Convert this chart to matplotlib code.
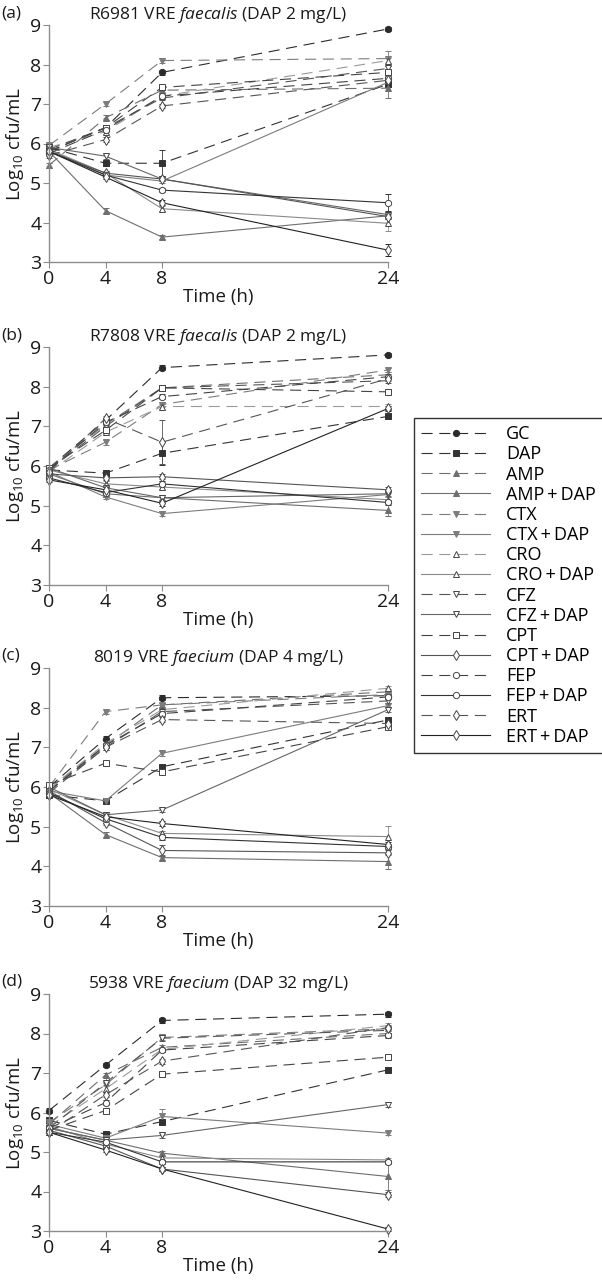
import numpy as np
import matplotlib.pyplot as plt
from matplotlib.lines import Line2D

plt.rcParams['font.family'] = ['Open Sans', 'DejaVu Sans']
plt.rcParams['mathtext.fontset'] = 'custom'
plt.rcParams['mathtext.rm'] = 'Open Sans'
plt.rcParams['mathtext.it'] = 'Open Sans:italic'

times = [0, 4, 8, 24]
names = ["GC", "DAP", "AMP", "AMP + DAP", "CTX", "CTX + DAP", "CRO", "CRO + DAP",
         "CFZ", "CFZ + DAP", "CPT", "CPT + DAP", "FEP", "FEP + DAP", "ERT", "ERT + DAP"]

# log10 cfu/mL, one list per regimen: t = 0, 4, 8, 24 h
panel_a = {
    "GC": [5.8, 6.4, 7.8, 8.9],
    "DAP": [5.9, 5.5, 5.5, 7.5],
    "AMP": [5.45, 6.65, 7.35, 7.4],
    "AMP + DAP": [5.8, 4.3, 3.63, 4.17],
    "CTX": [5.95, 7.0, 8.1, 8.15],
    "CTX + DAP": [5.85, 5.2, 5.05, 7.55],
    "CRO": [5.9, 6.3, 7.2, 8.1],
    "CRO + DAP": [5.85, 5.25, 4.35, 3.98],
    "CFZ": [5.85, 6.4, 7.15, 7.9],
    "CFZ + DAP": [5.9, 5.68, 5.1, 4.2],
    "CPT": [5.8, 6.4, 7.42, 7.8],
    "CPT + DAP": [5.8, 5.25, 5.1, 4.15],
    "FEP": [5.75, 6.35, 7.2, 7.65],
    "FEP + DAP": [5.8, 5.2, 4.82, 4.5],
    "ERT": [5.7, 6.1, 6.95, 7.6],
    "ERT + DAP": [5.8, 5.15, 4.5, 3.3],
}
panel_b = {
    "GC": [5.95, 7.15, 8.48, 8.8],
    "DAP": [5.9, 5.82, 6.32, 7.25],
    "AMP": [5.95, 7.05, 7.97, 8.3],
    "AMP + DAP": [5.8, 5.3, 5.2, 4.88],
    "CTX": [5.9, 6.6, 7.55, 8.42],
    "CTX + DAP": [5.85, 5.22, 4.8, 5.28],
    "CRO": [5.85, 6.85, 7.5, 7.5],
    "CRO + DAP": [5.9, 5.55, 5.47, 5.15],
    "CFZ": [5.9, 7.0, 7.97, 8.15],
    "CFZ + DAP": [5.95, 5.45, 5.2, 5.3],
    "CPT": [5.95, 6.9, 7.97, 7.87],
    "CPT + DAP": [5.8, 5.7, 5.73, 5.4],
    "FEP": [5.9, 7.1, 7.75, 8.25],
    "FEP + DAP": [5.7, 5.33, 5.55, 5.08],
    "ERT": [5.85, 7.2, 6.6, 8.2],
    "ERT + DAP": [5.65, 5.4, 5.06, 7.45],
}
panel_c = {
    "GC": [6.0, 7.22, 8.25, 8.3],
    "DAP": [5.8, 5.65, 6.51, 7.69],
    "AMP": [5.95, 7.05, 8.07, 8.4],
    "AMP + DAP": [5.85, 4.8, 4.22, 4.12],
    "CTX": [6.0, 7.9, 8.07, 8.33],
    "CTX + DAP": [5.9, 5.65, 6.85, 8.05],
    "CRO": [5.95, 7.1, 7.95, 8.49],
    "CRO + DAP": [5.95, 5.3, 4.83, 4.75],
    "CFZ": [5.9, 7.0, 7.9, 8.17],
    "CFZ + DAP": [6.0, 5.3, 5.42, 7.95],
    "CPT": [6.05, 6.6, 6.38, 7.52],
    "CPT + DAP": [5.9, 5.1, 4.4, 4.34],
    "FEP": [5.9, 7.05, 7.85, 8.27],
    "FEP + DAP": [5.85, 5.2, 4.73, 4.5],
    "ERT": [5.85, 7.0, 7.7, 7.6],
    "ERT + DAP": [5.8, 5.25, 5.08, 4.55],
}
panel_d = {
    "GC": [6.05, 7.2, 8.33, 8.49],
    "DAP": [5.8, 5.45, 5.77, 7.08],
    "AMP": [5.7, 6.95, 7.65, 8.0],
    "AMP + DAP": [5.6, 5.3, 4.97, 4.38],
    "CTX": [5.75, 6.7, 7.9, 8.12],
    "CTX + DAP": [5.7, 5.35, 5.9, 5.48],
    "CRO": [5.65, 6.6, 7.6, 8.2],
    "CRO + DAP": [5.65, 5.2, 4.85, 4.8],
    "CFZ": [5.6, 6.75, 7.88, 8.08],
    "CFZ + DAP": [5.6, 5.3, 5.42, 6.2],
    "CPT": [5.55, 6.05, 6.97, 7.4],
    "CPT + DAP": [5.55, 5.15, 4.57, 3.92],
    "FEP": [5.6, 6.25, 7.58, 7.95],
    "FEP + DAP": [5.5, 5.25, 4.75, 4.75],
    "ERT": [5.5, 6.45, 7.3, 8.15],
    "ERT + DAP": [5.5, 5.05, 4.57, 3.05],
}

# larger standard deviations visible in the figure (name, time index, sd)
big_sd_a = [("DAP", 2, 0.33), ("CTX", 3, 0.2), ("AMP", 3, 0.25), ("FEP + DAP", 3, 0.22),
            ("CRO + DAP", 3, 0.2), ("ERT + DAP", 3, 0.15)]
big_sd_b = [("ERT", 2, 0.55), ("DAP", 2, 0.3), ("AMP + DAP", 3, 0.15)]
big_sd_c = [("CRO + DAP", 3, 0.27), ("AMP + DAP", 3, 0.18), ("CPT + DAP", 2, 0.15)]
big_sd_d = [("CTX + DAP", 2, 0.2), ("AMP + DAP", 3, 0.35), ("CTX", 1, 0.2)]

panels = [panel_a, panel_b, panel_c, panel_d]
big_sds = [big_sd_a, big_sd_b, big_sd_c, big_sd_d]
letters = ["(a)", "(b)", "(c)", "(d)"]
titles = [r"R6981 VRE $\mathit{faecalis}$ (DAP 2 mg/L)",
          r"R7808 VRE $\mathit{faecalis}$ (DAP 2 mg/L)",
          r"8019 VRE $\mathit{faecium}$ (DAP 4 mg/L)",
          r"5938 VRE $\mathit{faecium}$ (DAP 32 mg/L)"]

# colour, dashed?, marker, filled?
styles = {
    "GC": ('#2b2b2b', True, 'o', True),
    "DAP": ('#333333', True, 's', True),
    "AMP": ('#6e6e6e', True, '^', True),
    "AMP + DAP": ('#6e6e6e', False, '^', True),
    "CTX": ('#7c7c7c', True, 'v', True),
    "CTX + DAP": ('#7c7c7c', False, 'v', True),
    "CRO": ('#9a9a9a', True, '^', False),
    "CRO + DAP": ('#8a8a8a', False, '^', False),
    "CFZ": ('#555555', True, 'v', False),
    "CFZ + DAP": ('#666666', False, 'v', False),
    "CPT": ('#444444', True, 's', False),
    "CPT + DAP": ('#555555', False, 'd', False),
    "FEP": ('#444444', True, 'o', False),
    "FEP + DAP": ('#333333', False, 'o', False),
    "ERT": ('#555555', True, 'd', False),
    "ERT + DAP": ('#222222', False, 'd', False),
}


def line_kw(name):
    col, dashed, mk, filled = styles[name]
    kw = dict(color=col, lw=0.8, marker=mk, ms=4.5 if mk != 'd' else 5,
              mfc=col if filled else 'white', mec=col if filled else '#444444', mew=0.7)
    if dashed:
        kw['dashes'] = (10, 6)
    return kw


fig = plt.figure(figsize=(6.02, 12.8), dpi=100)
W, H = 602, 1280
tops = [25, 347, 668, 994]
bots = [262, 585, 906, 1231]
axis_col = '#8c8c8c'

for i, data in enumerate(panels):
    ax = fig.add_axes([49 / W, 1 - bots[i] / H, 339 / W, (bots[i] - tops[i]) / H])
    sds = {}
    for name, ti, sd in big_sds[i]:
        sds.setdefault(name, [0.06] * 4)[ti] = sd
    for name in names:
        kw = line_kw(name)
        ax.errorbar(times, data[name], yerr=sds.get(name, [0.06] * 4), ecolor=kw['color'],
                    elinewidth=0.6, capsize=2.5, capthick=0.6, clip_on=False, **kw)
    ax.set_xlim(0, 24)
    ax.set_ylim(3, 9)
    ax.set_xticks([0, 4, 8, 24])
    ax.set_yticks([3, 4, 5, 6, 7, 8, 9])
    for s in ['top', 'right']:
        ax.spines[s].set_visible(False)
    for s in ['left', 'bottom']:
        ax.spines[s].set_color(axis_col)
        ax.spines[s].set_linewidth(1.0)
    ax.tick_params(length=4, width=0.8, color=axis_col, labelsize=14, pad=1.5,
                   labelcolor='#1a1a1a')
    ax.set_xlabel("Time (h)", fontsize=13.5, labelpad=0, color='#1a1a1a')
    ax.set_ylabel(r"Log$_{10}$ cfu/mL", fontsize=13.5, labelpad=3, color='#1a1a1a')
    ax.set_title(titles[i], fontsize=12.5, pad=4, color='#1a1a1a')
    fig.text(1 / W, 1 - (tops[i] - 12) / H, letters[i], fontsize=12.5, va='center',
             ha='left', color='#1a1a1a')

legend_labels = [n.replace(" + ", "\u2009+\u2009") for n in names]
handles = [Line2D([], [], **line_kw(n)) for n in names]
fig.legend(handles, legend_labels, loc='upper left', bbox_to_anchor=(414 / W, 1 - 418 / H),
           frameon=True, fancybox=False, edgecolor='#333333', framealpha=1,
           fontsize=13, handlelength=3.8, handletextpad=0.9, labelspacing=0.12,
           borderpad=0.4, borderaxespad=0, numpoints=1)

fig.savefig("out.png", dpi=100)
